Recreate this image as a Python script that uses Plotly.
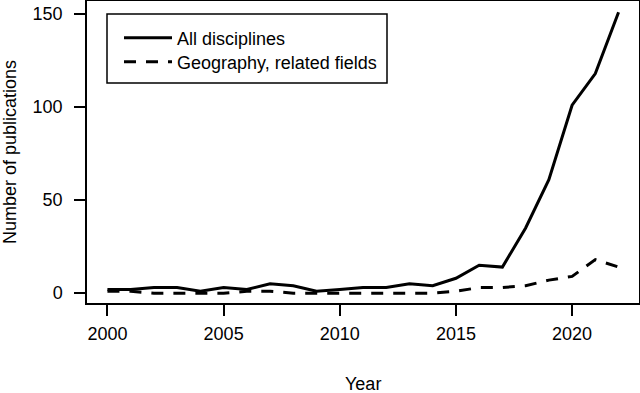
import plotly.graph_objects as go

years = list(range(2000, 2023))
all_disciplines = [2, 2, 3, 3, 1, 3, 2, 5, 4, 1, 2, 3, 3, 5, 4, 8, 15, 14, 35, 61, 101, 118, 151]
geography = [1, 1, 0, 0, 0, 0, 1, 1, 0, 0, 0, 0, 0, 0, 0, 1, 3, 3, 4, 7, 9, 18, 14]

x_ticks = [2000, 2005, 2010, 2015, 2020]
y_ticks = [0, 50, 100, 150]

font = "Liberation Sans, Arial, sans-serif"

# plot area in pixels (R style box)
L, R, T, B = 87, 639, 1, 303
W, H = 640, 393
pw, ph = R - L, B - T

fig = go.Figure()
fig.add_trace(go.Scatter(x=years, y=all_disciplines, mode="lines",
                         name="All disciplines", legend="legend",
                         line=dict(color="black", width=3)))
fig.add_trace(go.Scatter(x=years, y=geography, mode="lines",
                         name="Geography, related fields", legend="legend2",
                         line=dict(color="black", width=3, dash="12px,10px")))

leg = dict(xanchor="left", yanchor="middle", borderwidth=0,
           bgcolor="rgba(0,0,0,0)", font=dict(size=18), itemwidth=48)

fig.update_layout(width=W, height=H,
                  template=None, showlegend=True,
                  plot_bgcolor="white", paper_bgcolor="white",
                  font=dict(family=font, size=18, color="black"),
                  margin=dict(l=L, r=W - R, t=T, b=H - B, autoexpand=False),
                  legend=dict(leg, x=(119 - L) / pw, y=1 - (38 - T) / ph),
                  legend2=dict(leg, x=(119 - L) / pw, y=1 - (62 - T) / ph))

# legend box
fig.add_shape(type="rect", xref="paper", yref="paper",
              x0=(107 - L) / pw, x1=(387 - L) / pw,
              y0=1 - (83 - T) / ph, y1=1 - (14 - T) / ph,
              line=dict(color="black", width=1.5), fillcolor="white", layer="below")

# axis titles
fig.add_annotation(text="Number of publications", xref="paper", yref="paper",
                   x=0, y=0.5, xshift=10 - L, textangle=-90, showarrow=False,
                   xanchor="center", yanchor="middle", font=dict(size=18))
fig.add_annotation(text="Year", xref="paper", yref="paper",
                   x=0.5, y=0, yshift=-(383.5 - B), showarrow=False,
                   xanchor="center", yanchor="middle", font=dict(size=18))

fig.update_xaxes(range=[1999.12, 2022.88], automargin=False,
                 tickvals=x_ticks, ticks="outside", ticklen=11, tickwidth=1.5,
                 tickcolor="black", showline=True, linecolor="black",
                 linewidth=1.5, mirror=True, showgrid=False, zeroline=False,
                 ticklabelstandoff=3)
fig.update_yaxes(range=[-5.3, 157], automargin=False,
                 tickvals=y_ticks, ticks="outside", ticklen=11, tickwidth=1.5,
                 tickcolor="black", showline=True, linecolor="black",
                 linewidth=1.5, mirror=True, showgrid=False, zeroline=False,
                 ticklabelstandoff=8)

# the page body has a default 8px margin; drop it so the figure fills the window
fig.write_html("out.html", config={"displayModeBar": False},
               post_script="document.body.style.margin='0';")
